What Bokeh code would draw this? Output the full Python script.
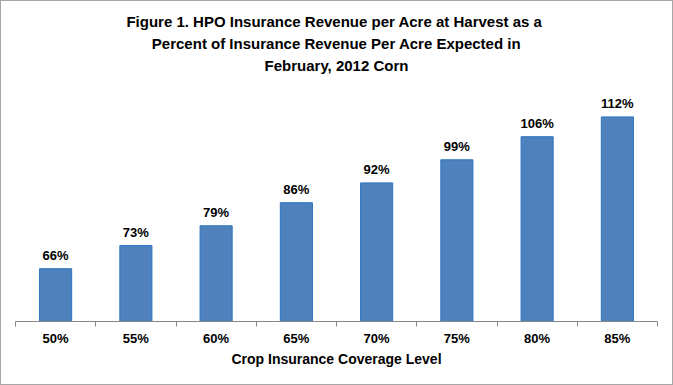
from bokeh.plotting import figure
from bokeh.models import Range1d, FixedTicker, Title, ColumnDataSource, InlineStyleSheet
from bokeh.embed import file_html
from bokeh.resources import INLINE
from bokeh.core.properties import value

levels = ["50%", "55%", "60%", "65%", "70%", "75%", "80%", "85%"]
pct = [66, 73, 79, 86, 92, 99, 106, 112]
title_lines = [
    "Figure 1.  HPO Insurance Revenue per Acre at Harvest as a",
    "Percent of Insurance Revenue Per Acre Expected in",
    "February, 2012 Corn",
]
x_label = "Crop Insurance Coverage Level"

xs = list(range(len(levels)))
src = ColumnDataSource(dict(x=xs, top=pct, lab=[f"{v}%" for v in pct]))

p = figure(width=673, height=385, output_backend="svg", toolbar_location=None,
           x_range=Range1d(-0.5, len(levels) - 0.5), y_range=Range1d(50, 120),
           min_border_left=15, min_border_right=16, min_border_bottom=64, min_border_top=0)
border_css = "inset 0 0 0 1px #a6a6a6"
p.styles = {"box-shadow": border_css, "background-color": "white"}
p.stylesheets = [InlineStyleSheet(css=":host { box-shadow: %s; background-color: white; }" % border_css)]

p.vbar(x="x", top="top", bottom=50, width=0.4, source=src,
       fill_color="#4F81BD", line_color="#2C74C4", line_width=1)
p.text(x="x", y="top", text="lab", source=src, y_offset=-13,
       text_align="center", text_baseline="middle",
       text_font=value("Liberation Sans"), text_font_style="bold",
       text_font_size="13px", text_color="black")

p.grid.visible = False
p.yaxis.visible = False
p.outline_line_color = None
p.background_fill_color = "white"
p.border_fill_color = None

ax = p.xaxis[0]
ax.ticker = FixedTicker(ticks=xs, minor_ticks=[i - 0.5 for i in range(len(levels) + 1)])
ax.major_label_overrides = {i: l for i, l in enumerate(levels)}
ax.major_tick_out = 0
ax.major_tick_in = 0
ax.minor_tick_out = 5
ax.minor_tick_in = 0
ax.minor_tick_line_color = "#868686"
ax.axis_line_color = "#868686"
ax.major_label_standoff = 4
ax.major_label_text_font = "Liberation Sans"
ax.major_label_text_font_style = "bold"
ax.major_label_text_font_size = "13px"
ax.major_label_text_color = "black"
ax.axis_label = x_label
ax.axis_label_standoff = 2
ax.axis_label_text_font = "Liberation Sans"
ax.axis_label_text_font_style = "bold"
ax.axis_label_text_font_size = "14px"
ax.axis_label_text_color = "black"

# spacer between title block and plot area
p.add_layout(Title(text=" ", text_font_size="10px", standoff=2), "above")
for line in reversed(title_lines):
    t = Title(text=line, align="center", text_font="Liberation Sans",
              text_font_style="bold", text_font_size="15px", text_color="black",
              standoff=3)
    p.add_layout(t, "above")
# spacer at the very top
p.add_layout(Title(text=" ", text_font_size="7px", standoff=0), "above")

open("out.html", "w").write(file_html(p, INLINE))
